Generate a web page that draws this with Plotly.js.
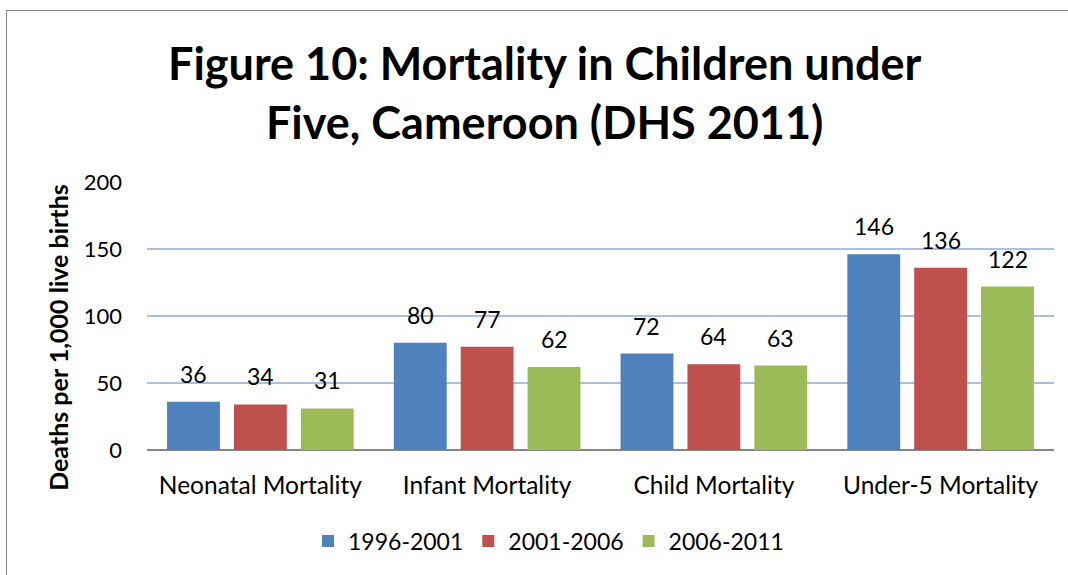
<!DOCTYPE html>
<html>
<head>
<meta charset="utf-8">
<script src="https://cdn.plot.ly/plotly-3.0.1.min.js"></script>
<style>
  html, body { margin: 0; padding: 0; background: #ffffff; }
  #wrap { position: relative; width: 1068px; height: 575px; overflow: hidden; }
  #chart { width: 1068px; height: 575px; }
  /* chart-area frame (left and top edges visible) */
  #frame { position: absolute; left: 6px; top: 10px; width: 1100px; height: 600px;
           border-left: 1.5px solid #878787; border-top: 1.5px solid #878787;
           pointer-events: none; }
</style>
</head>
<body>
<div id="wrap">
  <div id="chart"></div>
  <div id="frame"></div>
</div>
<script>
// Under-five mortality indicators, deaths per 1,000 live births
const categories = ["Neonatal Mortality", "Infant Mortality", "Child Mortality", "Under-5 Mortality"];
const seriesNames = ["1996-2001", "2001-2006", "2006-2011"];
const period1996 = [36, 80, 72, 146];
const period2001 = [34, 77, 64, 136];
const period2006 = [31, 62, 63, 122];
const seriesColors = ["#4f81bd", "#c0504d", "#9bbb59"];
const yTicks = [0, 50, 100, 150, 200];

const FONT = "Lato, 'Open Sans', sans-serif";
const seriesValues = [period1996, period2001, period2006];

// plot-area geometry used to place value labels over grouped bars
const MARGIN = { l: 147, r: 14, t: 182, b: 123 };
const PLOT_W = 1068 - MARGIN.l - MARGIN.r;
const PLOT_H = 575 - MARGIN.t - MARGIN.b;
const BARGAP = 0.115;
const slotPx = PLOT_W / categories.length * (1 - BARGAP) / seriesValues.length;

const traces = seriesValues.map((vals, i) => ({
  type: "bar",
  name: seriesNames[i],
  x: categories,
  y: vals,
  marker: { color: seriesColors[i], line: { width: 0 } },
  hoverinfo: "skip"
}));

// value labels above each bar
const valueLabels = [];
seriesValues.forEach((vals, i) => {
  vals.forEach((v, j) => {
    valueLabels.push({
      x: categories[j],
      y: v,
      xref: "x",
      yref: "y",
      text: String(v),
      showarrow: false,
      xanchor: "center",
      yanchor: "bottom",
      xshift: (i - (seriesValues.length - 1) / 2) * slotPx,
      yshift: 12,
      font: { family: FONT, size: 23, color: "#000000" }
    });
  });
});

const layout = {
  width: 1068,
  height: 575,
  paper_bgcolor: "#ffffff",
  plot_bgcolor: "#ffffff",
  margin: MARGIN,
  font: { family: FONT, size: 22, color: "#000000" },
  title: {
    text: "<b>Figure 10: Mortality in Children under<br>Five, Cameroon (DHS 2011)</b>",
    font: { family: FONT, size: 45, color: "#000000" },
    x: 0.51,
    xanchor: "center",
    xref: "container",
    y: 1 - 80 / 575,
    yanchor: "top",
    yref: "container"
  },
  bargap: BARGAP,
  bargroupgap: 0.21,
  barmode: "group",
  xaxis: {
    type: "category",
    tickfont: { family: FONT, size: 24.5, color: "#000000" },
    ticks: "",
    ticklabelstandoff: 18,
    showline: false,
    showgrid: false,
    zeroline: false
  },
  yaxis: {
    range: [0, 200],
    tickvals: yTicks,
    ticktext: yTicks.map(String),
    tickfont: { family: FONT, size: 22, color: "#000000" },
    ticks: "",
    ticklen: 0,
    ticklabelstandoff: 24,
    showgrid: true,
    gridcolor: "#a9bfe4",
    gridwidth: 1.5,
    zeroline: true,
    zerolinecolor: "#868686",
    zerolinewidth: 2,
    showline: false,
    fixedrange: true
  },
  showlegend: true,
  legend: {
    orientation: "h",
    x: 0.4427,
    xanchor: "center",
    y: -0.34,
    yanchor: "middle",
    font: { family: FONT, size: 23, color: "#000000" },
    bgcolor: "rgba(0,0,0,0)"
  },
  annotations: valueLabels.concat([{
    text: "<b>Deaths per 1,000 live births</b>",
    textangle: -90,
    xref: "paper",
    yref: "paper",
    x: (58 - 147) / PLOT_W,
    y: (452 - 339) / PLOT_H,
    xanchor: "center",
    yanchor: "middle",
    showarrow: false,
    font: { family: FONT, size: 25, color: "#000000" }
  }])
};

Plotly.newPlot("chart", traces, layout, { displayModeBar: false, staticPlot: true });
</script>
</body>
</html>
